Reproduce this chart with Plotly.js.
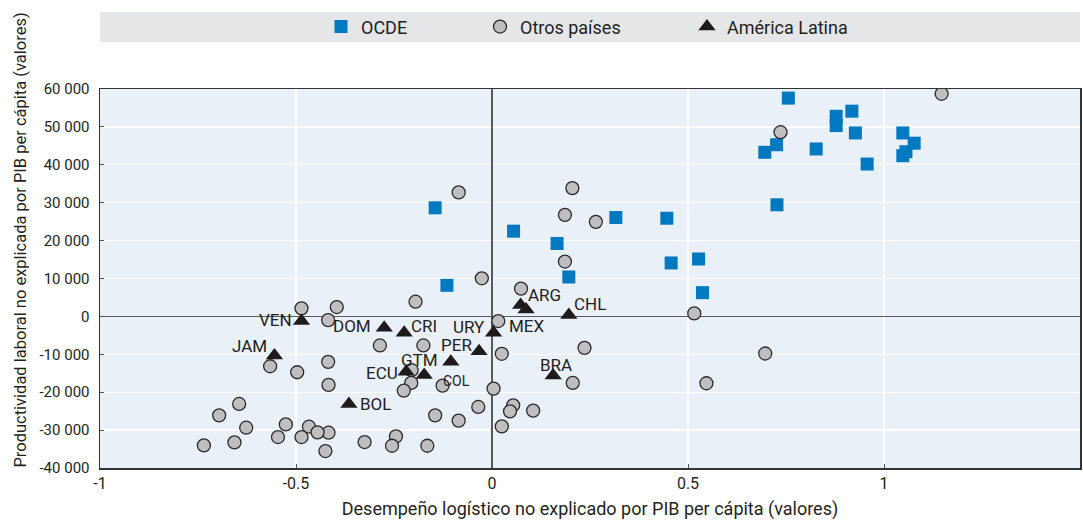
<!DOCTYPE html>
<html>
<head>
<meta charset="utf-8">
<script src="https://cdn.plot.ly/plotly-3.0.1.min.js"></script>
<style>html,body{margin:0;padding:0;background:#fff;}#chart{width:1083px;height:520px;}</style>
</head>
<body>
<div id="chart"></div>
<script>
// ---- data ----
const oecdX = [-0.145,-0.115,0.055,0.166,0.196,0.316,0.446,0.457,0.527,0.537,0.696,0.726,0.727,0.756,0.827,0.878,0.878,0.918,0.927,0.957,1.048,1.048,1.056,1.077];
const oecdY = [28650,8200,22490,19230,10400,26100,25900,14100,15150,6270,43300,45300,29450,57600,44180,52800,50350,54150,48400,40200,48400,42400,43450,45700];

const otherX = [1.147,0.736,0.265,-0.085,0.205,0.186,0.186,-0.026,0.074,0.516,0.697,0.547,-0.195,-0.396,0.016,-0.418,-0.286,-0.175,0.236,0.025,-0.418,-0.205,-0.206,-0.225,-0.126,0.206,-0.417,0.004,-0.035,0.054,0.046,0.105,-0.145,-0.085,0.025,-0.417,-0.325,-0.245,-0.255,-0.165,-0.425,-0.486,-0.566,-0.497,-0.645,-0.696,-0.627,-0.526,-0.467,-0.445,-0.546,-0.486,-0.735,-0.657];
const otherY = [58730,48600,24950,32720,33860,26800,14470,10050,7330,790,-9790,-17640,3880,2470,-1230,-970,-7670,-7670,-8290,-9870,-11990,-14200,-17550,-19580,-18250,-17550,-18080,-19050,-23890,-23460,-25050,-24870,-26100,-27510,-29020,-30690,-33150,-31670,-34130,-34130,-35530,2120,-13150,-14730,-23100,-26100,-29370,-28490,-29100,-30600,-31830,-31830,-34040,-33250];

const latamCodes = ["VEN","JAM","DOM","CRI","URY","ARG","MEX","CHL","PER","GTM","ECU","COL","BRA","BOL"];
const latamX = [-0.486,-0.555,-0.275,-0.224,0.004,0.073,0.087,0.196,-0.033,-0.105,-0.219,-0.173,0.156,-0.365];
const latamY = [-1230,-10320,-3000,-4320,-4320,2990,1850,350,-9170,-11990,-14630,-15430,-15610,-23100];

const seriesNames = ["OCDE","Otros países","América Latina"];
const xTickVals = [-1,-0.5,0,0.5,1,1.5];
const xTickText = ["-1","-0.5","0","0.5","1","1.5"];
const yTickVals = [-40000,-30000,-20000,-10000,0,10000,20000,30000,40000,50000,60000];
const yTickText = ["-40 000","-30 000","-20 000","-10 000","0","10 000","20 000","30 000","40 000","50 000","60 000"];
const xTitle = "Desempeño logístico no explicado por PIB per cápita (valores)";
const yTitle = "Productividad laboral no explicada por PIB per cápita (valores)";

// ---- label offsets (pixels) ----
const labelShift = {
  VEN:[-26,1], JAM:[-25,10], DOM:[-32,2], CRI:[20,7], URY:[-25,6], ARG:[24,10],
  MEX:[1,-17], CHL:[21,11], PER:[-23,6], GTM:[-31,2], ECU:[-24,-1], COL:[32,-6],
  BRA:[3,11], BOL:[27,0]
};

const FONT = "Roboto,'Liberation Sans',sans-serif";
const INK = "#231F20";

const traces = [
  {type:"scatter", mode:"markers", name:seriesNames[0], x:oecdX, y:oecdY, legend:"legend",
   marker:{symbol:"square", size:13, color:"#0079C1", line:{width:0}}},
  {type:"scatter", mode:"markers", name:seriesNames[1], x:otherX, y:otherY, legend:"legend2",
   marker:{symbol:"circle", size:13, color:"#BFBFC2", line:{width:1.3, color:"#2b2b2b"}}},
  {type:"scatter", mode:"markers", name:seriesNames[2], x:latamX, y:latamY, legend:"legend3",
   marker:{symbol:"triangle-up", size:15, color:"#1F1B1C", line:{width:0}}}
];

const annotations = latamCodes.map((c,i)=>({
  x: latamX[i], y: latamY[i], xref:"x", yref:"y", text:c, showarrow:false,
  xshift: labelShift[c][0], yshift: labelShift[c][1],
  font:{family:FONT, size: c==="COL"?14:17, color:INK}
}));
annotations.push({xref:"paper", yref:"paper", x:-0.081, y:0.6016, xanchor:"center", yanchor:"middle",
  text:yTitle, textangle:-90, showarrow:false, font:{family:FONT, size:16.5, color:INK}});

function leg(px){
  return {orientation:"h", x:(px-100)/980, xanchor:"left", y:1.164, yanchor:"middle",
          bgcolor:"rgba(0,0,0,0)", font:{family:FONT, size:18, color:INK}, itemclick:false};
}

const layout = {
  width:1083, height:520,
  margin:{l:100, r:3, t:89, b:52},
  paper_bgcolor:"#ffffff", plot_bgcolor:"#EAF0F8",
  font:{family:FONT, size:15, color:INK},
  showlegend:true,
  legend: leg(341-20),
  legend2: leg(500-20),
  legend3: leg(707-20),
  shapes:[{type:"rect", xref:"paper", yref:"paper", x0:0, x1:1, y0:1.124, y1:1.203,
           fillcolor:"#E5E6E8", line:{width:0}, layer:"below"}],
  xaxis:{range:[-1,1.5], tickvals:xTickVals, ticktext:xTickText,
         showgrid:true, gridcolor:"#ffffff", gridwidth:1.3,
         zeroline:true, zerolinecolor:"#5a5a5a", zerolinewidth:1.2,
         showline:true, linecolor:"#333333", linewidth:1.5, mirror:true,
         ticks:"inside", ticklen:4, tickcolor:"#555",
         tickfont:{family:FONT, size:16, color:INK},
         title:{text:xTitle, standoff:12, font:{family:FONT, size:18, color:INK}}},
  yaxis:{range:[-40000,60000], tickvals:yTickVals, ticktext:yTickText,
         showgrid:true, gridcolor:"#ffffff", gridwidth:1.3,
         zeroline:true, zerolinecolor:"#5a5a5a", zerolinewidth:1.2,
         showline:true, linecolor:"#333333", linewidth:1.5, mirror:true,
         ticks:"inside", ticklen:4, tickcolor:"#555", ticklabelstandoff:6,
         tickfont:{family:FONT, size:15, color:INK}},
  annotations: annotations
};

Plotly.newPlot("chart", traces, layout, {displayModeBar:false, staticPlot:true});
</script>
</body>
</html>
